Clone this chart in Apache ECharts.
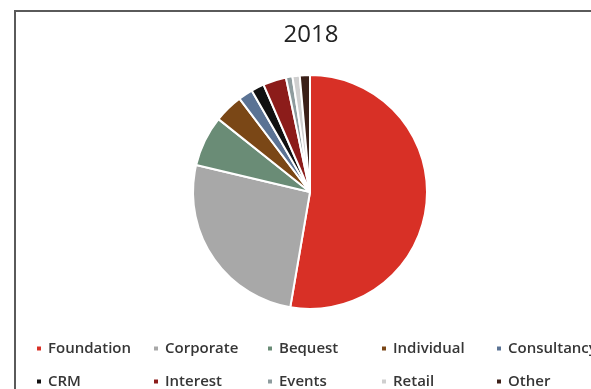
<!DOCTYPE html>
<html>
<head>
<meta charset="utf-8">
<script src="https://cdn.jsdelivr.net/npm/echarts@6/dist/echarts.min.js"></script>
<style>
  html, body { margin: 0; padding: 0; background: #fff; }
  #chart { width: 591px; height: 389px; }
</style>
</head>
<body>
<div id="chart"></div>
<script>
// Income sources, 2018 (share of total, %)
const categories = ['Foundation', 'Corporate', 'Bequest', 'Individual', 'Consultancy',
                    'CRM', 'Interest', 'Events', 'Retail', 'Other'];
const values = [52.7, 26.0, 7.0, 4.0, 2.0, 1.8, 3.2, 0.9, 1.0, 1.4];
const colors = ['#d83026', '#a8a8a8', '#6a8c76', '#7a4716', '#5b7394',
                '#111111', '#8c1c1a', '#8e9c9e', '#cfcfcf', '#3b2018'];
const titleText = '2018';

// legend slot positions (two rows of five)
const legendLeft = [35, 152, 266, 380, 495];
const legendTop = [341, 374];

const fontFamily = '"Open Sans", Lato, sans-serif';

const legends = categories.map((name, i) => ({
  data: [name],
  left: legendLeft[i % 5],
  top: legendTop[Math.floor(i / 5)],
  padding: 0,
  orient: 'horizontal',
  icon: 'rect',
  itemWidth: 6,
  itemHeight: 6,
  selectedMode: false,
  textStyle: { fontFamily, fontSize: 15, color: '#363636', fontWeight: 600, padding: [0, 0, 0, 1] }
}));

const chart = echarts.init(document.getElementById('chart'), null, { renderer: 'canvas' });
chart.setOption({
  animation: false,
  color: colors,
  title: {
    text: titleText,
    left: 306,
    textAlign: 'center',
    top: 18,
    textStyle: { fontFamily, fontSize: 24, fontWeight: 'normal', color: '#222' }
  },
  legend: legends,
  graphic: [{
    type: 'rect',
    shape: { x: 15, y: 11, width: 620, height: 420 },
    style: { fill: 'none', stroke: '#5a5a5a', lineWidth: 2 },
    silent: true
  }],
  series: [{
    type: 'pie',
    center: [310, 192],
    radius: [0, 117],
    startAngle: 90,
    clockwise: true,
    label: { show: false },
    labelLine: { show: false },
    itemStyle: { borderColor: '#fff', borderWidth: 2 },
    emphasis: { disabled: true },
    data: categories.map((name, i) => ({ name, value: values[i] }))
  }]
});
</script>
</body>
</html>
